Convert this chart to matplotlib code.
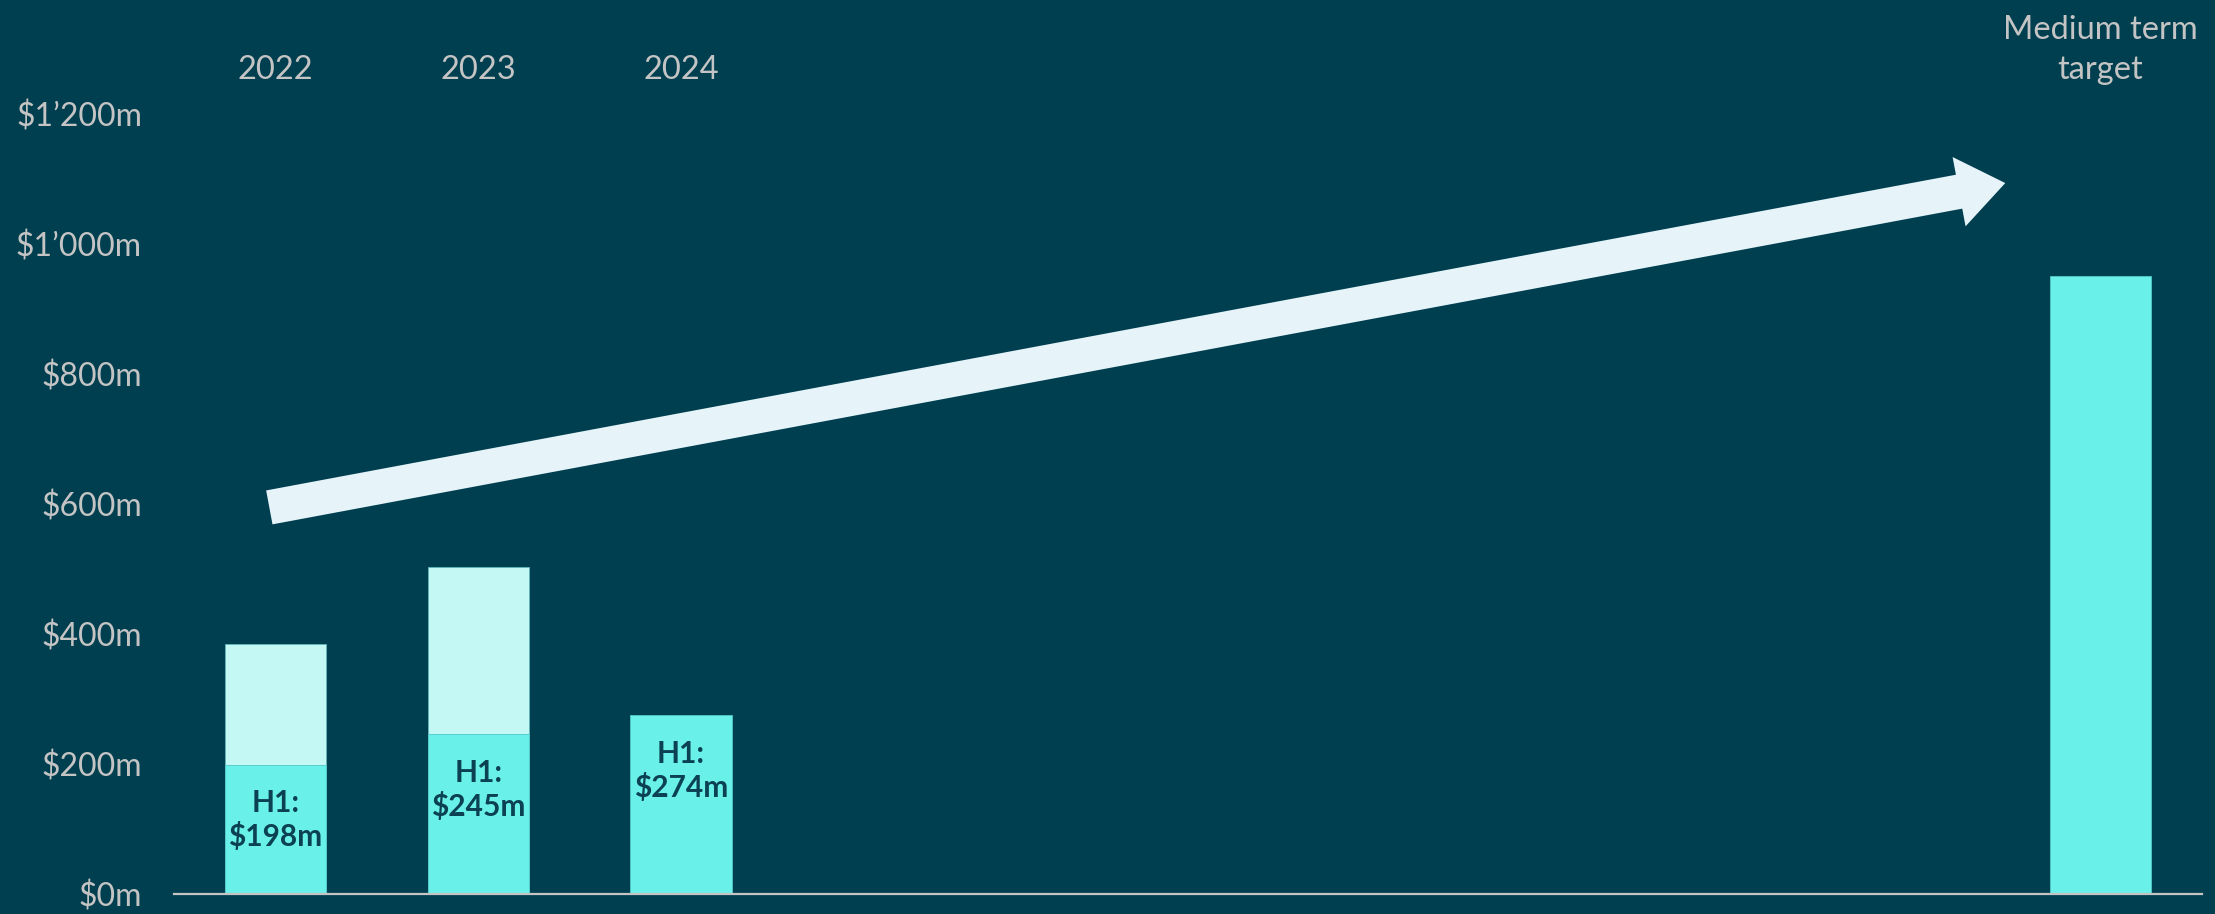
import matplotlib.pyplot as plt
from matplotlib.patches import FancyArrow
from matplotlib.transforms import IdentityTransform

# ---- data ----
years = ['2022', '2023', '2024']
year_pos = [0, 1, 2]
h1_values = [198, 245, 274]
full_year = [384, 503, None]        # 2024 only has H1 so far
target_pos = 9
target_value = 950
target_label = 'Medium term\ntarget'

yticks = [0, 200, 400, 600, 800, 1000, 1200]
ytick_labels = ['$0m', '$200m', '$400m', '$600m', '$800m', '$1\u2019000m', '$1\u2019200m']

# ---- style ----
bg = '#003f50'
h1_col = '#69f0e9'
fy_col = '#c4f8f5'
arrow_col = '#e6f4f9'
text_col = '#c4c4c4'
label_col = '#0b4152'

plt.rcParams['font.family'] = ['Lato', 'DejaVu Sans']

W, H = 2215, 914
fig = plt.figure(figsize=(W / 100, H / 100), dpi=100, facecolor=bg)
ax = fig.add_axes([174 / W, 20.5 / H, (2202 - 174) / W, 845 / H])
ax.set_facecolor(bg)
ax.set_xlim(-0.5, 9.5)
ax.set_ylim(0, 1300)

# full-year bars behind, H1 bars in front
for x, fy, h1 in zip(year_pos, full_year, h1_values):
    if fy is not None:
        ax.bar(x, fy, width=0.5, color=fy_col, edgecolor='#5fb8bc', linewidth=0.6, zorder=1)
    ax.bar(x, h1, width=0.5, color=h1_col, edgecolor='#4fc9c9', linewidth=0.6, zorder=1.2)
    ax.annotate(f'H1:\n${h1}m', (x, h1), xytext=(0, -40), textcoords='offset points',
                ha='center', va='center', fontsize=21.5, fontweight='bold',
                color=label_col, linespacing=1.2, zorder=3)

ax.bar(target_pos, target_value, width=0.5, color=h1_col, edgecolor='#4fc9c9',
       linewidth=0.6, zorder=1.2)

# column headers
for x, yr in zip(year_pos, years):
    ax.text(x, 1244, yr, ha='center', va='bottom', fontsize=23.5, color=text_col,
            clip_on=False)
ax.text(target_pos, 1244, target_label, ha='center', va='bottom', fontsize=23.5,
        color=text_col, linespacing=1.4, clip_on=False)

# axes cosmetics
for side in ['top', 'right', 'left']:
    ax.spines[side].set_visible(False)
ax.spines['bottom'].set_color(text_col)
ax.spines['bottom'].set_linewidth(1.6)
ax.spines['bottom'].set_zorder(2.5)
ax.set_xticks([])
ax.set_yticks(yticks)
ax.set_yticklabels(ytick_labels)
ax.tick_params(axis='y', length=0, pad=23, labelsize=23, labelcolor=text_col)

# growth arrow, drawn in pixel space so the shaft keeps its width
p0 = ax.transData.transform((-0.03, 594))
p1 = ax.transData.transform((8.53, 1093))
arr = FancyArrow(p0[0], p0[1], p1[0] - p0[0], p1[1] - p0[1], width=34.5,
                 head_width=70.5, head_length=47, length_includes_head=True,
                 color=arrow_col, linewidth=0, transform=IdentityTransform())
fig.add_artist(arr)

fig.savefig('out.png', dpi=100, facecolor=bg)
